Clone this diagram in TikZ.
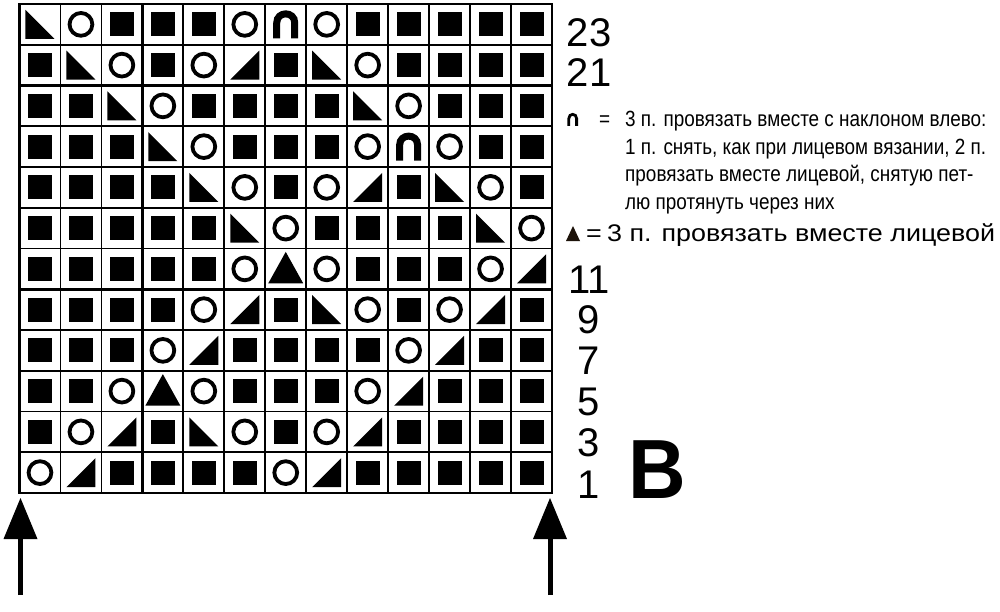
\documentclass[tikz,border=0pt]{standalone}
\usepackage{fontspec}
\setmainfont{Liberation Sans}
\newfontfamily\narrowfont[FakeStretch=0.86]{Liberation Sans}
\newfontfamily\widefont[FakeStretch=1.12]{Liberation Sans}
\newfontfamily\bigBfont[FakeStretch=0.95]{Liberation Sans}
\newcommand\kS{\fill (-12,-12) rectangle (12,12);}
\newcommand\kO{\draw[line width=3.8pt] (0,0) circle[radius=11.4pt];}
\newcommand\kL{\fill (-14.5,-14.5) -- (-14.5,14.5) -- (14.5,14.5) -- cycle;}
\newcommand\kR{\fill (14.5,-14.5) -- (14.5,14.5) -- (-14.5,14.5) -- cycle;}
\newcommand\kA{\fill (0,-17) -- (-17.5,14.5) -- (17.5,14.5) -- cycle;}
\newcommand\kN{\draw[line width=7pt] (-9,14) -- (-9,-1.5) .. controls (-9,-13.5) and (9,-13.5) .. (9,-1.5) -- (9,14);}
\tikzset{
  gridline/.style={line width=1.8pt},
  boldline/.style={line width=3pt},
  numlab/.style={anchor=base, inner sep=0pt, font=\fontsize{40}{40}\selectfont},
  legtxt/.style={anchor=base west, inner sep=0pt, font=\narrowfont\fontsize{22}{22}\selectfont},
  legbig/.style={anchor=base west, inner sep=0pt, font=\widefont\fontsize{24}{24}\selectfont},
}
\begin{document}
\begin{tikzpicture}[x=1pt,y=-1pt]
\useasboundingbox (0,0) rectangle (1000,612);
\fill[white] (0,0) rectangle (1000,612);
% chart symbols
\foreach \rowspec [count=\r from 0] in {
 {L,O,S,S,S,O,N,O,S,S,S,S,S},
 {S,L,O,S,O,R,S,L,O,S,S,S,S},
 {S,S,L,O,S,S,S,S,L,O,S,S,S},
 {S,S,S,L,O,S,S,S,O,N,O,S,S},
 {S,S,S,S,L,O,S,O,R,S,L,O,S},
 {S,S,S,S,S,L,O,S,S,S,S,L,O},
 {S,S,S,S,S,O,A,O,S,S,S,O,R},
 {S,S,S,S,O,R,S,L,O,S,O,R,S},
 {S,S,S,O,R,S,S,S,S,O,R,S,S},
 {S,S,O,A,O,S,S,S,O,R,S,S,S},
 {S,O,R,S,L,O,S,O,R,S,S,S,S},
 {O,R,S,S,S,S,O,R,S,S,S,S,S}}{
  \foreach \s [count=\c from 0] in \rowspec {
    \pgfmathsetmacro\cx{19.5+(\c+0.5)*40.96}
    \pgfmathsetmacro\cy{4+(\r+0.5)*40.75}
    \begin{scope}[shift={(\cx,\cy)}]
      \csname k\s\endcsname
    \end{scope}
  }
}
% grid
\foreach \i in {0,...,13}{
  \pgfmathsetmacro\xx{19.5+\i*40.96}
  \draw[gridline] (\xx,4) -- (\xx,493);
}
\foreach \j in {0,...,12}{
  \pgfmathsetmacro\yy{4+\j*40.75}
  \draw[gridline] (19.5,\yy) -- (552,\yy);
}
\draw[boldline] (142.4,4) -- (142.4,493);
\draw[boldline] (19.5,85.5) -- (552,85.5);
\draw[boldline] (19.5,289.25) -- (552,289.25);
\draw[line width=2.6pt] (19.5,4) rectangle (552,493);
% arrows
\coordinate (la0) at (20.5,595);
\coordinate (la1) at (20.5,530);
\coordinate (lt) at (20.5,498);
\draw[line width=5pt] (la0) -- (la1);
\fill (lt) -- (3.5,539) -- (37.5,539) -- cycle;
\coordinate (ra0) at (550,595);
\coordinate (ra1) at (550,530);
\coordinate (rt) at (550,498);
\draw[line width=5pt] (ra0) -- (ra1);
\fill (rt) -- (533,539) -- (567,539) -- cycle;
% row numbers
\node[numlab] (n23) at (589,47) {23};
\node[numlab] (n21) at (589,87) {21};
\node[numlab] (n11) at (589,293) {11};
\node[numlab] (n9) at (589,333) {9};
\node[numlab] (n7) at (589,374) {7};
\node[numlab] (n5) at (589,415) {5};
\node[numlab] (n3) at (589,456) {3};
\node[numlab] (n1) at (589,498) {1};
% legend
\draw[line width=2.8pt] (568.8,126) -- (568.8,118.5) .. controls (568.8,113) and (576.6,113) .. (576.6,118.5) -- (576.6,126);
\node[legtxt] (eq1) at (599,127) {=};
\node[legtxt] (l1) at (625,127) {3 п. провязать вместе с наклоном влево:};
\node[legtxt] (l2) at (625,155) {1 п. снять, как при лицевом вязании, 2 п.};
\node[legtxt] (l3) at (625,182) {провязать вместе лицевой, снятую пет-};
\node[legtxt] (l4) at (625,210) {лю протянуть через них};
\fill[black!85!brown] (566,241) -- (580,241) -- (573,226) -- cycle;
\node[legbig] (eq2) at (586,241) {=};
\node[legbig] (l5) at (607,241) {3 п. провязать вместе лицевой};
% big letter
\node[anchor=base, inner sep=0pt, font=\bigBfont\bfseries\fontsize{84}{84}\selectfont] (B) at (657,498) {В};
\end{tikzpicture}
\end{document}
